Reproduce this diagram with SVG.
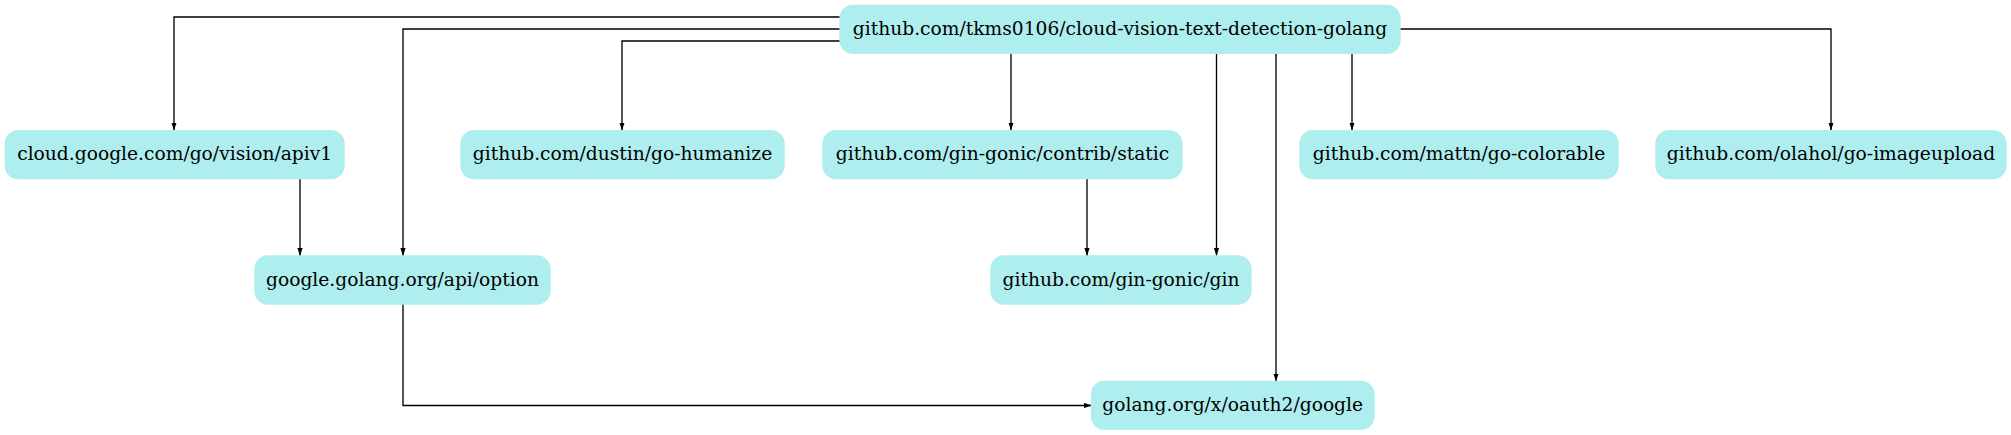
<svg xmlns="http://www.w3.org/2000/svg" width="2011" height="435" viewBox="0 0 2011 435">
<defs>
<style>
.n rect{fill:#afeeee;stroke:#afeeee;stroke-width:1.3}
.n text{font-family:"DejaVu Serif",serif;font-size:18.67px;text-anchor:middle;fill:#000}
.e path{fill:none;stroke:#000;stroke-width:1.33}
</style>
<marker id="ah" markerWidth="9" markerHeight="6" refX="8" refY="3" orient="auto" markerUnits="userSpaceOnUse">
<path d="M0,0.4 L8,3 L0,5.6 Z" fill="#000"/>
</marker>
</defs>
<rect width="2011" height="435" fill="#fff"/>
<g id="edges" class="e">
<path d="M840,17 H174 V130.5" marker-end="url(#ah)"/>
<path d="M840,29 H403 V256" marker-end="url(#ah)"/>
<path d="M840,41 H622 V130.5" marker-end="url(#ah)"/>
<path d="M1011,53.3 V130.5" marker-end="url(#ah)"/>
<path d="M1216.5,53.3 V256" marker-end="url(#ah)"/>
<path d="M1276,53.3 V381.5" marker-end="url(#ah)"/>
<path d="M1352,53.3 V130.5" marker-end="url(#ah)"/>
<path d="M1400,29 H1831 V130.5" marker-end="url(#ah)"/>
<path d="M300,178.7 V256" marker-end="url(#ah)"/>
<path d="M1087,178.7 V256" marker-end="url(#ah)"/>
<path d="M403,304 V405.5 H1092" marker-end="url(#ah)"/>
</g>
<g id="n_root" class="n"><rect x="840" y="5.3" width="560" height="48" rx="13"/><text x="1120" y="34.9">github.com/tkms0106/cloud-vision-text-detection-golang</text></g>
<g id="n_vision" class="n"><rect x="5.3" y="130.7" width="338.7" height="48" rx="13"/><text x="174.7" y="160.3">cloud.google.com/go/vision/apiv1</text></g>
<g id="n_humanize" class="n"><rect x="461" y="130.7" width="323" height="48" rx="13"/><text x="622.5" y="160.3">github.com/dustin/go-humanize</text></g>
<g id="n_static" class="n"><rect x="823" y="130.7" width="359" height="48" rx="13"/><text x="1002.5" y="160.3">github.com/gin-gonic/contrib/static</text></g>
<g id="n_colorable" class="n"><rect x="1300" y="130.7" width="318" height="48" rx="13"/><text x="1459" y="160.3">github.com/mattn/go-colorable</text></g>
<g id="n_imageupload" class="n"><rect x="1656" y="130.7" width="350" height="48" rx="13"/><text x="1831" y="160.3">github.com/olahol/go-imageupload</text></g>
<g id="n_option" class="n"><rect x="255" y="256" width="295" height="48" rx="13"/><text x="402.5" y="285.6">google.golang.org/api/option</text></g>
<g id="n_gin" class="n"><rect x="991" y="256" width="260" height="48" rx="13"/><text x="1121" y="285.6">github.com/gin-gonic/gin</text></g>
<g id="n_oauth2" class="n"><rect x="1091.5" y="381.3" width="282.5" height="48" rx="13"/><text x="1232.7" y="410.9">golang.org/x/oauth2/google</text></g>
</svg>
